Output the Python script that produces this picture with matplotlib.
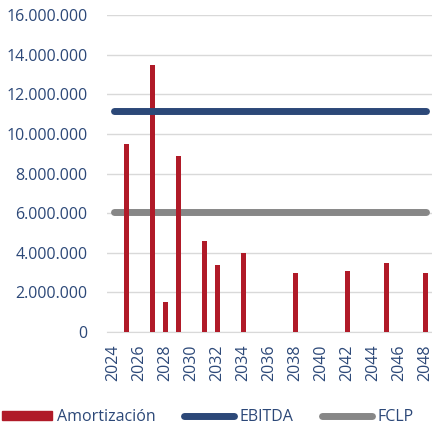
import matplotlib.pyplot as plt
from matplotlib.lines import Line2D
from matplotlib.patches import Patch
from matplotlib.ticker import FuncFormatter

years = list(range(2024, 2049))
amort = {2025: 9.5e6, 2027: 13.5e6, 2028: 1.5e6, 2029: 8.9e6, 2031: 4.6e6,
         2032: 3.4e6, 2034: 4.0e6, 2038: 3.0e6, 2042: 3.08e6, 2045: 3.5e6,
         2048: 3.0e6}
amort_values = [amort.get(y, 0) for y in years]
ebitda = 11.15e6
fclp = 6.05e6

red = "#B01A28"
blue = "#2C4878"
gray = "#878787"
txt = "#2C4878"

plt.rcParams['font.family'] = ['Open Sans', 'DejaVu Sans']

fig = plt.figure(figsize=(4.32, 4.25), dpi=100)
ax = fig.add_axes([107 / 432, 93 / 425, 325 / 432, 317 / 425])

x = list(range(len(years)))
ax.bar(x, amort_values, width=0.4, color=red, zorder=3)
ax.plot([x[0], x[-1]], [ebitda] * 2, color=blue, lw=5, solid_capstyle='round', zorder=4)
ax.plot([x[0], x[-1]], [fclp] * 2, color=gray, lw=5, solid_capstyle='round', zorder=2)

ax.set_xlim(-0.5, len(years) - 0.5)
ax.set_ylim(0, 16e6)
ax.set_yticks(range(0, 16000001, 2000000))
ax.yaxis.set_major_formatter(FuncFormatter(lambda v, p: f"{int(v):,}".replace(",", ".")))
ax.set_xticks(x[::2])
ax.set_xticklabels([str(y) for y in years[::2]], rotation=90)

ax.grid(axis='y', color='#D9D9D9', lw=1, zorder=0)
for s in ['top', 'right', 'left']:
    ax.spines[s].set_visible(False)
ax.spines['bottom'].set_color('#D9D9D9')
ax.tick_params(length=0, colors=txt, labelsize=11.5)
ax.tick_params(axis='y', pad=14)
ax.tick_params(axis='x', pad=9)

handles = [Patch(color=red), Line2D([], [], color=blue, lw=5, solid_capstyle='round'),
           Line2D([], [], color=gray, lw=5, solid_capstyle='round')]
fig.legend(handles, ["Amortización", "EBITDA", "FCLP"], loc='center left',
           bbox_to_anchor=(2 / 432, 8 / 425), ncol=3, frameon=False, fontsize=11.5,
           handlelength=3.1, handleheight=0.5, columnspacing=1.8, handletextpad=0.35,
           borderpad=0, borderaxespad=0, labelcolor=txt)

fig.savefig("out.png", dpi=100)
